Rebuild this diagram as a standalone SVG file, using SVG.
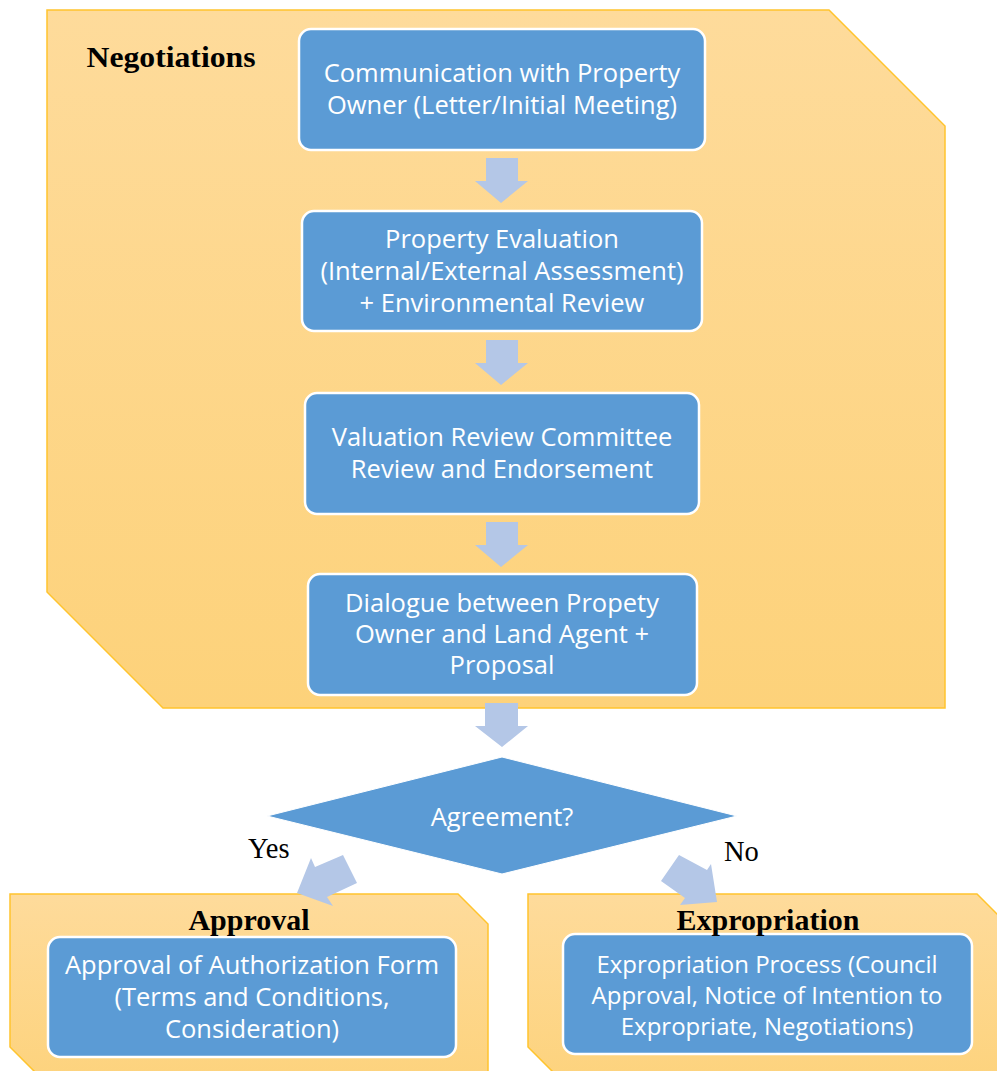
<svg xmlns="http://www.w3.org/2000/svg" width="997" height="1071" viewBox="0 0 997 1071">
<defs>
<linearGradient id="gold" x1="0" y1="0" x2="0" y2="1">
<stop offset="0" stop-color="#FEDB9B"/>
<stop offset="1" stop-color="#FDD27A"/>
</linearGradient>
<style>
.cont{fill:url(#gold);stroke:#FFC42E;stroke-width:1.5}
.box{fill:#5B9BD5;stroke:#FFFFFF;stroke-width:2.5}
.arr{fill:#B4C7E7}
.t{font-family:"Open Sans","Noto Sans",sans-serif;font-size:25.5px;fill:#FFFFFF;text-anchor:middle}
.ts{font-size:24px}
.title{font-family:"Liberation Serif","Times New Roman",serif;font-size:30px;font-weight:bold;fill:#000000;text-anchor:middle}
.lbl{font-family:"Liberation Serif","Times New Roman",serif;font-size:28.5px;fill:#000000}
</style>
</defs>
<rect width="997" height="1071" fill="#FFFFFF"/>
<g id="negotiations">
<polygon class="cont" points="47,10 829,10 945,126 945,708 163,708 47,592"/>
<text class="title" x="171" y="67" textLength="169" lengthAdjust="spacingAndGlyphs">Negotiations</text>
</g>
<g id="approval-group">
<polygon class="cont" points="10,894 458,894 488,924 488,1100 63,1100 10,1047"/>
</g>
<g id="expropriation-group">
<polygon class="cont" points="528,894 977,894 1007,924 1007,1100 581,1100 528,1047"/>
</g>
<g id="connectors">
<polygon class="arr" points="486,158 518,158 518,181 528,181 501,203 475,181 486,181"/>
<polygon class="arr" points="486,340 518,340 518,363 528,363 501,385 475,363 486,363"/>
<polygon class="arr" points="486,522 518,522 518,545 528,545 501,567 475,545 486,545"/>
<polygon class="arr" points="485,703 518,703 518,726 528,726 502,747 475,726 485,726"/>
<polygon class="arr" points="343,855 357,883 327,897 333,906 297,893 311,858 315,867"/>
<polygon class="arr" points="679,855 707,870 711,864 717,902 680,905 685,898 661,881"/>
</g>
<g id="n1">
<rect class="box" x="299" y="29" width="406" height="121" rx="12"/>
<text class="t" x="502" y="82">Communication with Property</text>
<text class="t" x="502" y="114">Owner (Letter/Initial Meeting)</text>
</g>
<g id="n2">
<rect class="box" x="302" y="211" width="400" height="120" rx="12"/>
<text class="t" x="502" y="248">Property Evaluation</text>
<text class="t" x="502" y="280">(Internal/External Assessment)</text>
<text class="t" x="502" y="312">+ Environmental Review</text>
</g>
<g id="n3">
<rect class="box" x="305" y="393" width="394" height="121" rx="12"/>
<text class="t" x="502" y="446">Valuation Review Committee</text>
<text class="t" x="502" y="478">Review and Endorsement</text>
</g>
<g id="n4">
<rect class="box" x="308" y="574" width="389" height="121" rx="12"/>
<text class="t" x="502" y="612">Dialogue between Propety</text>
<text class="t" x="502" y="643">Owner and Land Agent +</text>
<text class="t" x="502" y="674">Proposal</text>
</g>
<g id="decision">
<polygon fill="#5B9BD5" stroke="#FFFFFF" stroke-width="1" points="502,757 737,816 502,874 267,816"/>
<text class="t" x="502" y="826">Agreement?</text>
</g>
<g id="yes-label"><text class="lbl" x="248" y="858">Yes</text></g>
<g id="no-label"><text class="lbl" x="724" y="861">No</text></g>
<g id="n5">
<rect class="box" x="48" y="937" width="408" height="120" rx="12"/>
<text class="t" x="252" y="974">Approval of Authorization Form</text>
<text class="t" x="252" y="1006">(Terms and Conditions,</text>
<text class="t" x="252" y="1038">Consideration)</text>
</g>
<g id="n6">
<rect class="box" x="563" y="934" width="409" height="120" rx="12"/>
<text class="t ts" x="767" y="973">Expropriation Process (Council</text>
<text class="t ts" x="767" y="1004">Approval, Notice of Intention to</text>
<text class="t ts" x="767" y="1035">Expropriate, Negotiations)</text>
</g>
<g id="approval-title"><text class="title" x="249" y="930">Approval</text></g>
<g id="expropriation-title"><text class="title" x="768" y="930">Expropriation</text></g>
</svg>
